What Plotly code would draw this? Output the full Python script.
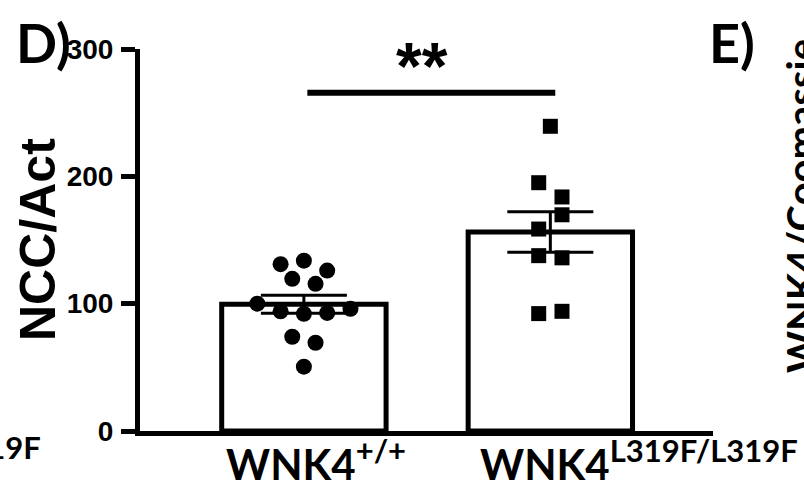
import numpy as np
import plotly.graph_objects as go

# ---- data -------------------------------------------------------------
genotypes = ["+/+", "L319F/L319F"]
gene = "WNK4"
wt_values = [131, 133.8, 126, 119.5, 115.6, 100, 94, 92, 92.7, 96, 74, 69.3, 50.5]
ko_values = [239.3, 195, 183.8, 158.6, 169.8, 137.7, 136, 92.2, 94]
y_ticks = [0, 100, 200, 300]
y_title = "NCC/Act"
significance = "**"
panel_label = "D)"
next_panel_label = "E)"
next_panel_title = "WNK4/Coomassie"
prev_panel_genotype = "L319F/L319F"

groups = [wt_values, ko_values]
means = [float(np.mean(g)) for g in groups]
sems = [float(np.std(g, ddof=1) / np.sqrt(len(g))) for g in groups]

# ---- layout geometry (pixels) ----------------------------------------
FIG_W, FIG_H = 804, 492
L, R, T, B = 140, 91, 49, 61
PW, PH = FIG_W - L - R, FIG_H - T - B
X_RANGE = [-0.665, 1.66]
Y_RANGE = [0, 300]
SUP_PX = 31


def px_x(px):
    return (px - L) / PW


def px_y(py):
    return 1 - (py - T) / PH


def genotype_label(genotype):
    return f'{gene}<sup><span style="font-size:{SUP_PX}px">{genotype}</span></sup>'


def swarm_offsets(values, row_height, spacing):
    """Spread points that fall in the same row horizontally around 0."""
    vals = np.asarray(values, float)
    order = np.argsort(-vals, kind="stable")
    offsets = np.zeros(len(vals))
    i = 0
    while i < len(order):
        top = vals[order[i]]
        row = [order[i]]
        j = i + 1
        while j < len(order) and vals[order[j]] >= top - row_height:
            row.append(order[j])
            j += 1
        row.sort()
        n = len(row)
        for k, idx in enumerate(row):
            offsets[idx] = (k - (n - 1) / 2) * spacing
        i = j
    return offsets


BLACK = "#000000"
fig = go.Figure()

# bars with SEM
fig.add_trace(go.Bar(
    x=[0, 1], y=means, width=0.667,
    marker=dict(color="white", line=dict(color=BLACK, width=5)),
    error_y=dict(type="data", array=sems, visible=True,
                 color=BLACK, thickness=3, width=43),
    showlegend=False, hoverinfo="skip",
))

# individual animals
symbols = ["circle", "square"]
for gi, vals in enumerate(groups):
    xs = gi + swarm_offsets(vals, 14, 0.0945)
    fig.add_trace(go.Scatter(
        x=xs, y=vals, mode="markers",
        marker=dict(symbol=symbols[gi], size=16 if gi == 0 else 15,
                    color=BLACK, line=dict(width=0)),
        showlegend=False, cliponaxis=False,
    ))

TICK_FONT = dict(family="Liberation Sans", size=28, color=BLACK, weight="bold")
LABEL_FONT = "Lato"

fig.update_layout(
    width=FIG_W, height=FIG_H,
    margin=dict(l=L, r=R, t=T, b=B, pad=0),
    paper_bgcolor="white", plot_bgcolor="white",
    xaxis=dict(range=X_RANGE, showgrid=False, zeroline=False,
               showticklabels=False, ticks="", showline=True,
               linecolor=BLACK, linewidth=5, fixedrange=True),
    yaxis=dict(range=Y_RANGE, tickvals=y_ticks, showgrid=False, zeroline=False,
               ticks="outside", ticklen=14, tickwidth=5, tickcolor=BLACK,
               showline=True, linecolor=BLACK, linewidth=5,
               tickfont=TICK_FONT, ticklabelstandoff=2, fixedrange=True),
)

annotations = []

# category labels under the bars
label_left = [-0.323, 0.705]
for gi, genotype in enumerate(genotypes):
    annotations.append(dict(
        x=label_left[gi], xref="x", y=0, yref="paper",
        xanchor="left", yanchor="top", yshift=2,
        text=genotype_label(genotype), showarrow=False,
        font=dict(family=LABEL_FONT, size=42, color=BLACK, weight="bold"),
    ))

# y-axis title
annotations.append(dict(
    x=px_x(38), xref="paper", y=px_y(240), yref="paper",
    xanchor="center", yanchor="middle", textangle=-90,
    text=y_title, showarrow=False,
    font=dict(family="Liberation Sans", size=50, color=BLACK, weight="bold"),
))

# significance
annotations.append(dict(
    x=0.48, xref="x", y=px_y(66), yref="paper",
    xanchor="center", yanchor="middle",
    text=significance, showarrow=False,
    font=dict(family="Liberation Sans", size=66, color=BLACK, weight="bold"),
))

# panel letters
annotations.append(dict(
    x=px_x(14), xref="paper", y=px_y(42), yref="paper",
    xanchor="left", yanchor="middle",
    text=panel_label, showarrow=False,
    font=dict(family=LABEL_FONT, size=54, color=BLACK, weight="bold"),
))
annotations.append(dict(
    x=px_x(707), xref="paper", y=px_y(42), yref="paper",
    xanchor="left", yanchor="middle",
    text=next_panel_label, showarrow=False,
    font=dict(family=LABEL_FONT, size=54, color=BLACK, weight="bold"),
))

# neighbouring panels (partly outside the canvas)
annotations.append(dict(
    x=px_x(775), xref="paper", y=px_y(206), yref="paper",
    xanchor="left", yanchor="middle", textangle=-90,
    text=next_panel_title, showarrow=False,
    font=dict(family=LABEL_FONT, size=40, color=BLACK, weight="bold"),
))
annotations.append(dict(
    x=px_x(43), xref="paper", y=0, yref="paper",
    xanchor="right", yanchor="top", yshift=5,
    text=genotype_label(prev_panel_genotype), showarrow=False,
    font=dict(family=LABEL_FONT, size=42, color=BLACK, weight="bold"),
))

fig.update_layout(
    annotations=annotations,
    shapes=[dict(type="line", xref="x", yref="y",
                 x0=0.014, x1=1.02, y0=265.6, y1=265.6,
                 line=dict(color=BLACK, width=6))],
)

fig.write_html("out.html", include_plotlyjs=True)
